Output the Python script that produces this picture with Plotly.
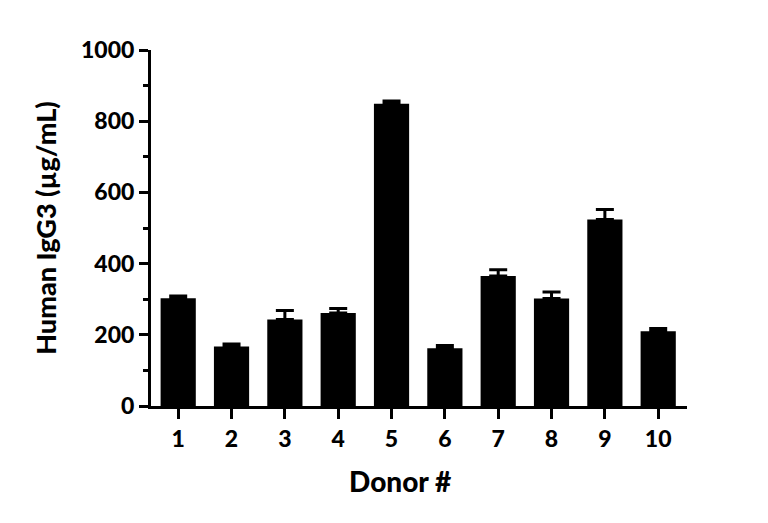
import plotly.graph_objects as go

donors = ["1", "2", "3", "4", "5", "6", "7", "8", "9", "10"]
igg3 = [303, 167, 243, 261, 849, 162, 365, 302, 524, 210]
sd = [6, 7, 25, 13, 8, 8, 18, 18, 28, 8]
y_ticks = [0, 200, 400, 600, 800, 1000]

FONT = "Lato"
WT = 900
L, R, T, B = 143, 81, 42, 117
W, H = 760, 515
PW, PH = W - L - R, H - T - B

fig = go.Figure(
    go.Bar(
        x=list(range(1, 11)),
        y=igg3,
        width=0.66,
        marker=dict(color="black", line=dict(width=0)),
        error_y=dict(type="data", array=sd, symmetric=False,
                     arrayminus=[0] * len(sd),
                     color="black", thickness=3, width=9),
    )
)

fig.update_layout(
    width=W, height=H,
    margin=dict(l=L, r=R, t=T, b=B),
    paper_bgcolor="white", plot_bgcolor="white",
    showlegend=False,
    font=dict(family=FONT, color="black", weight=WT),
    xaxis=dict(
        range=[0.49, 10.54],
        tickmode="array",
        tickvals=list(range(1, 11)),
        ticktext=donors,
        showline=True, linecolor="black", linewidth=3,
        ticks="outside", ticklen=10, tickwidth=3, tickcolor="black",
        tickfont=dict(size=23, family=FONT, weight=WT),
        showgrid=False, zeroline=False,
    ),
    yaxis=dict(
        range=[0, 1000],
        tickmode="array",
        tickvals=y_ticks,
        ticktext=[str(v) for v in y_ticks],
        showline=True, linecolor="black", linewidth=3,
        ticks="outside", ticklen=9, tickwidth=3, tickcolor="black",
        tickfont=dict(size=23, family=FONT, weight=WT),
        minor=dict(ticks="outside", ticklen=5, tickwidth=3,
                   tickcolor="black", dtick=100, showgrid=False),
        showgrid=False, zeroline=False,
        title=dict(text="Human IgG3 (µg/mL)",
                   font=dict(size=27, family=FONT, weight=WT),
                   standoff=17),
    ),
    annotations=[
        dict(text="Donor #", xref="paper", yref="paper",
             x=(392 - L) / PW, y=-75 / PH,
             xanchor="center", yanchor="middle", showarrow=False,
             font=dict(size=28, family=FONT, weight=WT, color="black")),
    ],
)

fig.write_html("out.html")
